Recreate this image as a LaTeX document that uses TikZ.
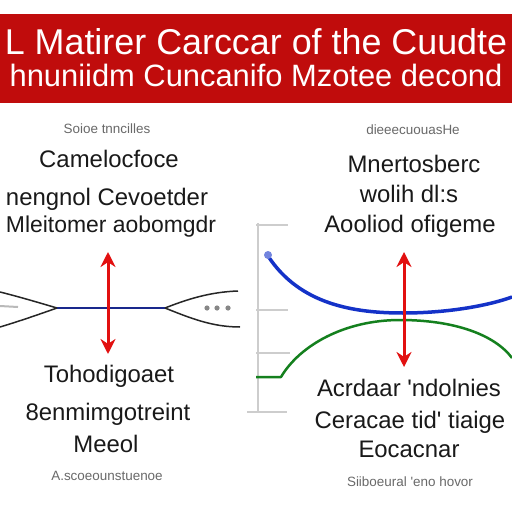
\documentclass[tikz,border=0pt]{standalone}
\usepackage{fontspec}
\setmainfont{Liberation Sans}
\usepackage{tikz}
\usetikzlibrary{arrows.meta, positioning}
\definecolor{bannerred}{RGB}{192,12,12}
\definecolor{arrowred}{RGB}{226,16,16}
\definecolor{curveblue}{RGB}{20,50,200}
\definecolor{curvegreen}{RGB}{20,128,30}
\definecolor{lineblue}{RGB}{25,40,140}
\definecolor{axisgray}{RGB}{205,205,205}
\definecolor{notegray}{RGB}{105,105,105}

\begin{document}
\begin{tikzpicture}[x=1bp,y=-1bp,line join=bevel,
    titletext/.style={anchor=base,inner sep=0pt,text depth=0pt,text=white,font=\fontsize{36}{36}\selectfont},
    subtitletext/.style={anchor=base,inner sep=0pt,text height=22bp,text=white,font=\fontsize{31}{31}\selectfont},
    bodytext/.style={anchor=base,inner sep=0pt,text=black!90,font=\fontsize{24}{24}\selectfont},
    notetext/.style={anchor=base,inner sep=0pt,text=notegray,font=\fontsize{13.5}{13.5}\selectfont},
    redarrow/.style={{Stealth[length=15bp,width=15bp]}-{Stealth[length=15bp,width=15bp]},arrowred,line width=3bp},
    axisline/.style={axisgray,line width=2bp}]
  \useasboundingbox (0,0) rectangle (512,512);
  \fill[white] (0,0) rectangle (512,512);
%%
  % Node: banner
  \fill[bannerred] (0,14) rectangle (512,103);
  \node[titletext] (title1) at (256,55) {L Matirer Carccar of the Cuudte};
  \node[subtitletext] (title2) at (256,87) {hnuniidm Cuncanifo Mzotee decond};
  % Node: left heading
  \node[notetext] (lnote) at (107,134) {Soioe tnncilles};
  \node[bodytext] (lhead1) at (109,168) {Camelocfoce};
  \node[bodytext] (lhead2) at (107,205) {nengnol Cevoetder};
  \node[bodytext,font=\fontsize{23}{23}\selectfont] (lhead3) at (111,232) {Mleitomer aobomgdr};
  % Node: right heading
  \node[notetext] (rnote) at (413,135) {dieeecuouasHe};
  \node[bodytext] (rhead1) at (414,173) {Mnertosberc};
  \node[bodytext] (rhead2) at (409,203) {wolih dl:s};
  \node[bodytext] (rhead3) at (410,232) {Aooliod ofigeme};
  % Edge: left neck
  \draw[lineblue,line width=2.5bp] (57,308) -- (165,308);
  \draw[black!85,line width=1.5bp] (0,292) .. controls (20,297) and (40,303) .. (57,308);
  \draw[black!85,line width=1.5bp] (0,327) .. controls (20,321) and (40,314) .. (57,308);
  \draw[black!85,line width=1.5bp] (165,308) .. controls (188,299) and (210,292) .. (238,291);
  \draw[black!85,line width=1.5bp] (165,308) .. controls (190,318) and (212,327) .. (240,327);
  \draw[axisgray!90!black,line width=2bp] (0,306) -- (18,307);
  \foreach \dx in {207,217,228}
    \fill[notegray!80] (\dx,308) circle (2.6bp);
  % Edge: left arrow
  \coordinate (ltop) at (108,252);
  \coordinate (lbot) at (108,354);
  \draw[redarrow] (ltop) -- (lbot);
  % Node: left caption
  \node[bodytext] (lcap1) at (109,382) {Tohodigoaet};
  \node[bodytext] (lcap2) at (108,420) {8enmimgotreint};
  \node[bodytext] (lcap3) at (106,452) {Meeol};
  \node[notetext] (lcap4) at (107,480) {A.scoeounstuenoe};
  % Edge: right axis
  \draw[axisline] (258,223) -- (258,412);
  \draw[axisline] (256,225) -- (288,225);
  \draw[axisline] (256,310) -- (288,310);
  \draw[axisline] (256,353) -- (290,353);
  \draw[axisline] (247,412) -- (287,412);
  % Edge: right curves
  \draw[curveblue,line width=3.5bp] (268,256) .. controls (300,305) and (355,313) .. (403,313)
     .. controls (450,313) and (490,305) .. (512,297);
  \fill[curveblue!60] (268,255) circle (4bp);
  \draw[curvegreen,line width=2.5bp] (256,377) -- (281,377) .. controls (300,345) and (345,320) .. (400,320)
     .. controls (455,320) and (495,335) .. (512,358);
  % Edge: right arrow
  \coordinate (rtop) at (404,252);
  \coordinate (rbot) at (404,367);
  \draw[redarrow] (rtop) -- (rbot);
  % Node: right caption
  \node[bodytext] (rcap1) at (409,396) {Acrdaar \textquotesingle ndolnies};
  \node[bodytext] (rcap2) at (410,428) {Ceracae tid\textquotesingle\ tiaige};
  \node[bodytext] (rcap3) at (409,457) {Eocacnar};
  \node[notetext] (rcap4) at (410,486) {Siiboeural \textquotesingle eno hovor};
%
\end{tikzpicture}
\end{document}
